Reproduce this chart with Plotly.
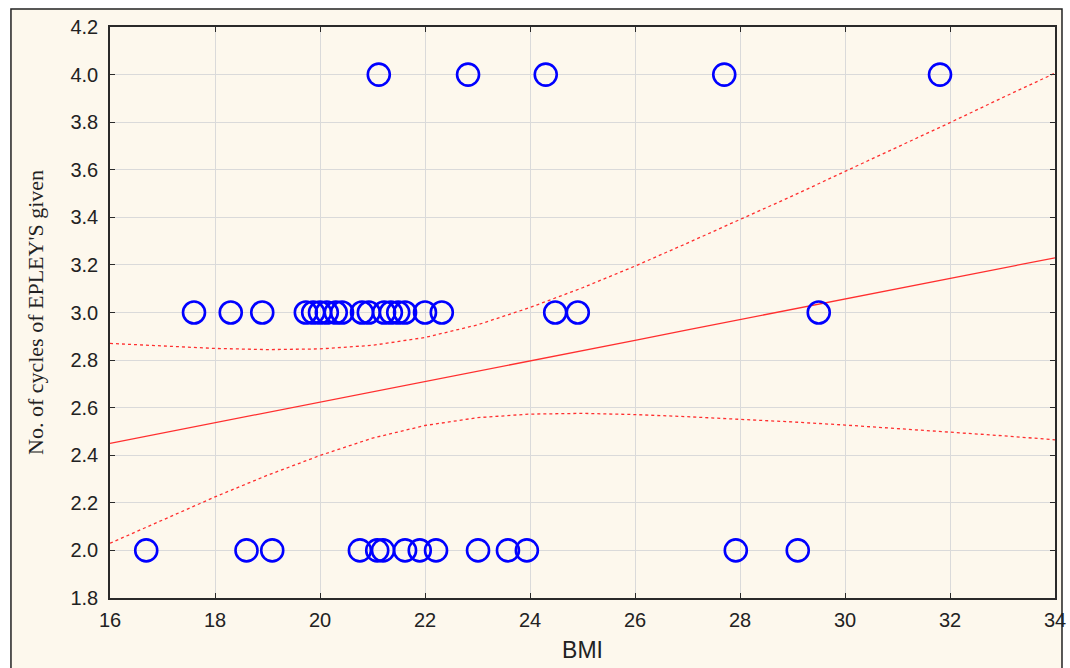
import plotly.graph_objects as go

# Observations (BMI, number of Epley cycles)
bmi_4 = [21.12, 22.82, 24.30, 27.70, 31.81]
bmi_3 = [17.60, 18.30, 18.90, 19.73, 19.87, 20.00, 20.13, 20.30, 20.42, 20.80,
         20.93, 21.22, 21.35, 21.49, 21.62, 22.00, 22.32, 24.48, 24.91, 29.50]
bmi_2 = [16.69, 18.60, 19.09, 20.76, 21.09, 21.20, 21.62, 21.90, 22.21,
         23.01, 23.58, 23.94, 27.92, 29.10]

# Regression line and confidence band
line_x = [16, 17, 18, 19, 20, 21, 22, 23, 24, 25, 26, 27, 28, 29, 30, 31, 32, 33, 34]
fit_y = [2.450, 2.493, 2.537, 2.580, 2.623, 2.667, 2.710, 2.753, 2.797, 2.840,
         2.883, 2.927, 2.970, 3.013, 3.057, 3.100, 3.143, 3.187, 3.230]
upper_y = [2.870, 2.858, 2.849, 2.844, 2.847, 2.862, 2.895, 2.948, 3.021, 3.104,
           3.195, 3.292, 3.390, 3.490, 3.593, 3.695, 3.798, 3.903, 4.006]
lower_y = [2.030, 2.128, 2.225, 2.316, 2.399, 2.472, 2.525, 2.558, 2.573, 2.576,
           2.571, 2.562, 2.552, 2.540, 2.527, 2.513, 2.498, 2.482, 2.465]

x_ticks = [16, 18, 20, 22, 24, 26, 28, 30, 32, 34]
y_ticks = [1.8, 2.0, 2.2, 2.4, 2.6, 2.8, 3.0, 3.2, 3.4, 3.6, 3.8, 4.0, 4.2]

xs = bmi_4 + bmi_3 + bmi_2
ys = [4.0] * len(bmi_4) + [3.0] * len(bmi_3) + [2.0] * len(bmi_2)

red = "#ff2f2f"
fig = go.Figure()
fig.add_trace(go.Scatter(x=line_x, y=upper_y, mode="lines",
                         line=dict(color=red, width=1.3, dash="3px,3px"), hoverinfo="skip"))
fig.add_trace(go.Scatter(x=line_x, y=lower_y, mode="lines",
                         line=dict(color=red, width=1.3, dash="3px,3px"), hoverinfo="skip"))
fig.add_trace(go.Scatter(x=line_x, y=fit_y, mode="lines",
                         line=dict(color=red, width=1.3), hoverinfo="skip"))
fig.add_trace(go.Scatter(x=xs, y=ys, mode="markers",
                         marker=dict(symbol="circle-open", size=22, color="#0000ff",
                                     line=dict(width=2.6, color="#0000ff"))))

axis_common = dict(
    showgrid=True, gridcolor="#dadada", gridwidth=1,
    showline=True, linecolor="#2a2a2a", linewidth=1.5, mirror="ticks",
    ticks="inside", ticklen=5, tickcolor="#2a2a2a", tickwidth=1,
    zeroline=False, automargin=False,
    tickfont=dict(family="Liberation Sans, Arial, sans-serif", size=20, color="#222222"),
)

W, H = 1070, 668
fig.update_layout(
    width=W, height=H,
    margin=dict(l=110, r=15, t=27, b=70),
    paper_bgcolor="white",
    plot_bgcolor="white",
    showlegend=False,
    xaxis=dict(range=[16, 34], tickvals=x_ticks, ticktext=[str(v) for v in x_ticks],
               ticklabelstandoff=3,
               title=dict(text="BMI", standoff=12,
                          font=dict(family="Liberation Sans, Arial, sans-serif", size=23, color="#222222")),
               **axis_common),
    yaxis=dict(range=[1.8, 4.2], tickvals=y_ticks, ticktext=[f"{v:.1f}" for v in y_ticks],
               ticklabelstandoff=6,
               title=dict(text="No. of cycles of EPLEY'S given", standoff=21,
                          font=dict(family="Liberation Serif, Times New Roman, serif", size=22, color="#222222")),
               **axis_common),
    shapes=[
        dict(type="rect", xref="paper", yref="paper",
             x0=-0.1048, x1=1.0074, y0=-0.2, y1=1.0315,
             fillcolor="#fdf8ed", line=dict(color="#222222", width=1.5), layer="below"),
    ],
)

# remove the page's default body margin so the figure fills the window exactly
fig.write_html("out.html",
               config={"displayModeBar": False},
               post_script="document.body.style.margin='0';document.body.style.overflow='hidden';")
